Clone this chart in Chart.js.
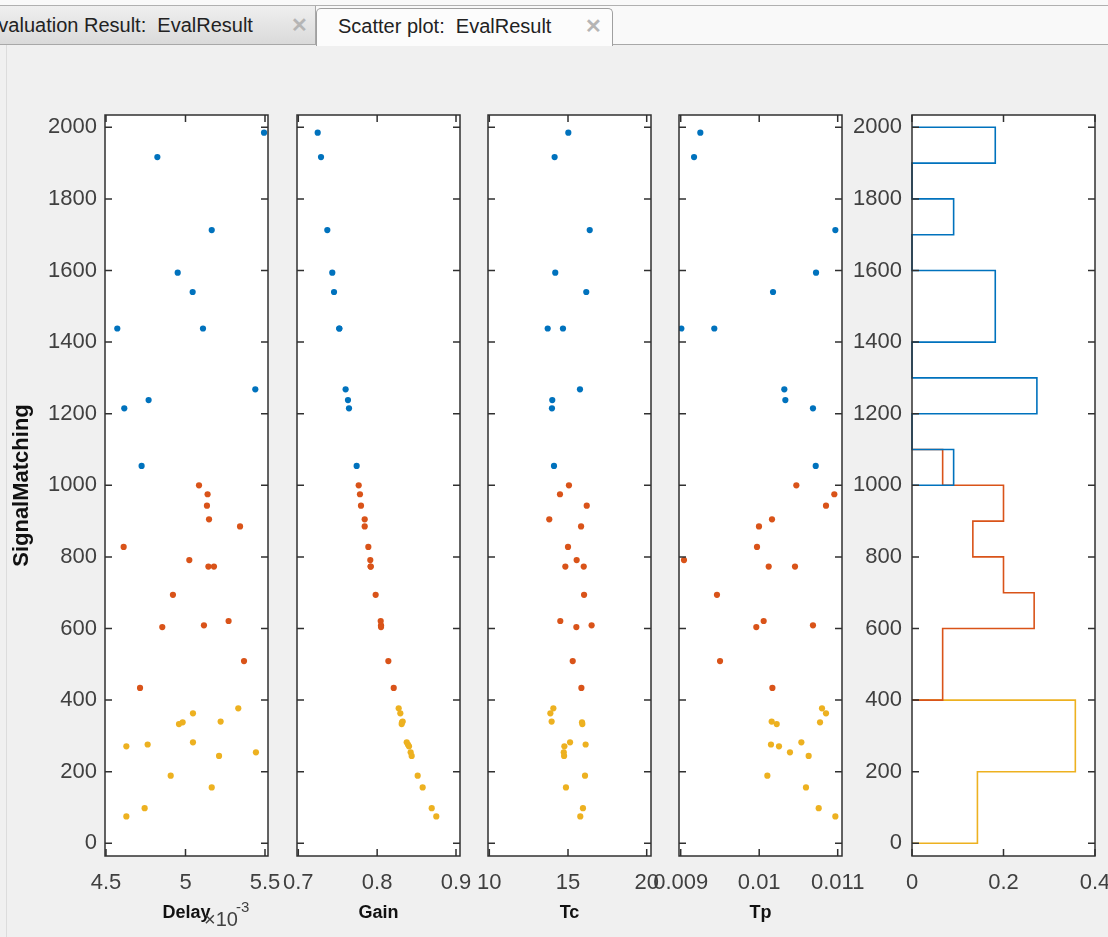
<!DOCTYPE html>
<html><head><meta charset="utf-8">
<script src="https://cdn.jsdelivr.net/npm/chart.js@4.4.1/dist/chart.umd.min.js"></script>
<style>
html,body{margin:0;padding:0;}
body{width:1108px;height:937px;background:#f0f0f0;position:relative;overflow:hidden;font-family:"Liberation Sans",Arial,sans-serif;}
#strip{position:absolute;left:0;top:0;width:1108px;height:45px;background:#f9f9f9;}
#topline{position:absolute;left:0;top:5px;width:1108px;height:1px;background:#b0b0b0;}
#botline{position:absolute;left:0;top:44px;width:1108px;height:1px;background:#a8a8a8;}
.tab{position:absolute;overflow:hidden;white-space:nowrap;font-size:20px;color:#222;}
#tab1{left:0;top:6px;width:315px;height:38px;background:linear-gradient(#efefef,#dadada);border-right:1px solid #a8a8a8;}
#tab2{left:316px;top:8px;width:295px;height:37px;background:#fcfcfc;border:1px solid #a0a0a0;border-bottom:none;border-radius:5px 5px 0 0;}
.tt{position:absolute;top:8px;}
.x{position:absolute;top:7px;color:#b5b5b5;font-size:20px;font-weight:bold;}
#leftline{position:absolute;left:6px;top:45px;width:1px;height:892px;background:#dcdcdc;}
canvas{position:absolute;}
</style></head><body>
<div id="strip"></div>
<div id="topline"></div>
<div id="botline"></div>
<div class="tab" id="tab1"><span class="tt" style="left:-15px">Evaluation Result:&nbsp; EvalResult</span><span class="x" style="left:291px">✕</span></div>
<div class="tab" id="tab2"><span class="tt" style="left:21px;top:6px">Scatter plot:&nbsp; EvalResult</span><span class="x" style="left:268px;top:5px">✕</span></div>
<div id="leftline"></div>
<canvas id="c1" width="280" height="837" style="left:0px;top:100px"></canvas>
<canvas id="c2" width="205" height="837" style="left:267px;top:100px"></canvas>
<canvas id="c3" width="205" height="837" style="left:458px;top:100px"></canvas>
<canvas id="c4" width="225" height="837" style="left:649px;top:100px"></canvas>
<canvas id="c5" width="266" height="837" style="left:842px;top:100px"></canvas>
<script>
// ---------- data ----------
const signalBlue   = [1985,1917,1713,1594,1540,1438,1438,1268,1238,1215,1054];
const signalOrange = [1000,975,943,905,885,828,791,773,773,694,621,609,604,509,434];
const signalYellow = [377,363,340,338,333,282,276,271,254,244,189,156,98,75];

const delayBlue   = [5.494e-3,4.823e-3,5.165e-3,4.951e-3,5.045e-3,4.571e-3,5.110e-3,5.439e-3,4.768e-3,4.615e-3,4.724e-3];
const delayOrange = [5.085e-3,5.139e-3,5.135e-3,5.148e-3,5.343e-3,4.611e-3,5.024e-3,5.144e-3,5.179e-3,4.921e-3,5.271e-3,5.116e-3,4.854e-3,5.368e-3,4.714e-3];
const delayYellow = [5.332e-3,5.047e-3,5.221e-3,4.982e-3,4.959e-3,5.047e-3,4.762e-3,4.628e-3,5.443e-3,5.211e-3,4.907e-3,5.165e-3,4.743e-3,4.628e-3];

const gainBlue   = [0.7246,0.7288,0.7368,0.7431,0.7453,0.752,0.752,0.760,0.763,0.7643,0.774];
const gainOrange = [0.7766,0.7782,0.7795,0.7842,0.7842,0.7888,0.7913,0.7918,0.7918,0.7981,0.8045,0.8049,0.8049,0.8142,0.821];
const gainYellow = [0.8273,0.8294,0.8324,0.8315,0.8311,0.8375,0.8391,0.8404,0.8425,0.8438,0.8514,0.8577,0.8692,0.875];

const tcBlue   = [15.02,14.15,16.38,14.19,16.16,13.71,14.68,15.76,14.0,13.98,14.11];
const tcOrange = [15.06,14.49,16.19,13.81,15.83,15.0,15.55,14.83,16.0,16.02,14.51,16.5,15.53,15.30,15.85];
const tcYellow = [14.07,13.88,13.96,15.89,15.91,15.13,16.12,14.77,14.73,14.75,16.08,14.87,15.95,15.78];

const tpBlue   = [0.00925,0.00917,0.01097,0.010724,0.010176,0.009008,0.009428,0.01032,0.010333,0.010685,0.01072];
const tpOrange = [0.010473,0.010957,0.010851,0.010163,0.009997,0.009972,0.009042,0.010121,0.010456,0.009462,0.010057,0.010685,0.009963,0.009501,0.010168];
const tpYellow = [0.0108,0.010851,0.010159,0.010775,0.010223,0.010537,0.01015,0.010252,0.010392,0.01063,0.010104,0.010596,0.010758,0.01097];

// histogram (stairs) of SignalMatching per group
const histEdgesBlue   = [1000,1100,1200,1300,1400,1500,1600,1700,1800,1900,2000];
const histValuesBlue  = [0.091,0,0.273,0,0.182,0.182,0,0.091,0,0.182];
const histEdgesOrange = [400,500,600,700,800,900,1000,1100];
const histValuesOrange= [0.067,0.067,0.267,0.2,0.133,0.2,0.067];
const histEdgesYellow = [0,200,400];
const histValuesYellow= [0.143,0.357];

// ticks
const yTicks = [0,200,400,600,800,1000,1200,1400,1600,1800,2000];
const yTickLabels = ['0','200','400','600','800','1000','1200','1400','1600','1800','2000'];
const delayTicks = [0.0045,0.005,0.0055];  const delayTickLabels = ['4.5','5','5.5'];
const gainTicks  = [0.7,0.8,0.9];          const gainTickLabels  = ['0.7','0.8','0.9'];
const tcTicks    = [10,15,20];             const tcTickLabels    = ['10','15','20'];
const tpTicks    = [0.009,0.01,0.011];     const tpTickLabels    = ['0.009','0.01','0.011'];
const histTicks  = [0,0.2,0.4];            const histTickLabels  = ['0','0.2','0.4'];

// ---------- styling ----------
const C_BLUE='#0072BD', C_ORANGE='#D95319', C_YELLOW='#EDB120';
const AXC='#303030', TXT='#404040';
const FONT='"Liberation Sans", Arial, sans-serif';
const Y_MIN=-35.5, Y_MAX=2034.4;

const boxPlugin = {
  id:'mbox',
  beforeDraw(chart){
    const {ctx, chartArea:a} = chart;
    ctx.save(); ctx.fillStyle='#ffffff';
    ctx.fillRect(a.left,a.top,a.right-a.left,a.bottom-a.top); ctx.restore();
  },
  afterDatasetsDraw(chart){
    const {ctx, chartArea:a, scales:{x,y}} = chart;
    ctx.save(); ctx.strokeStyle=AXC; ctx.lineWidth=1.5;
    ctx.strokeRect(a.left,a.top,a.right-a.left,a.bottom-a.top);
    const L=7; ctx.beginPath();
    y.ticks.forEach(t=>{const p=y.getPixelForValue(t.value);
      ctx.moveTo(a.left,p);ctx.lineTo(a.left+L,p);ctx.moveTo(a.right,p);ctx.lineTo(a.right-L,p);});
    x.ticks.forEach(t=>{const p=x.getPixelForValue(t.value);
      ctx.moveTo(p,a.bottom);ctx.lineTo(p,a.bottom-L);ctx.moveTo(p,a.top);ctx.lineTo(p,a.top+L);});
    ctx.stroke(); ctx.restore();
  }
};

function pts(xs, ys){ return ys.map((v,i)=>({x:xs[i], y:v})); }
function stairs(edges, vals){
  const d=[{x:0,y:edges[0]}];
  vals.forEach((v,i)=>{ d.push({x:v,y:edges[i]}); d.push({x:v,y:edges[i+1]}); });
  d.push({x:0,y:edges[edges.length-1]});
  return d;
}

function makePanel(id, o){
  const tickFont={family:FONT,size:22};
  new Chart(document.getElementById(id), {
    type:'scatter',
    data:{datasets:o.datasets},
    options:{
      responsive:false, animation:false, events:[],
      layout:{padding:{left:0,right:o.right,top:15,bottom:0}},
      plugins:{legend:{display:false},tooltip:{enabled:false}},
      scales:{
        x:{type:'linear', min:o.xmin, max:o.xmax,
          afterBuildTicks:s=>{s.ticks=o.xticks.map(v=>({value:v}));},
          afterFit:s=>{s.height=81; s.paddingLeft=0; s.paddingRight=0;},
          ticks:{autoSkip:false, maxRotation:0, color:TXT, font:tickFont, padding:14,
                 callback:(v,i)=>o.xlabels[i]},
          grid:{display:false, drawTicks:false}, border:{display:false},
          title:{display:!!o.xtitle, text:o.xtitle||'', color:'#111', font:{family:FONT,size:18,weight:'bold'}, padding:{top:0,bottom:13}}
        },
        y:{type:'linear', min:Y_MIN, max:Y_MAX,
          afterBuildTicks:s=>{s.ticks=yTicks.map(v=>({value:v}));},
          afterFit:s=>{s.width=o.left; s.paddingTop=0; s.paddingBottom=0;},
          ticks:{display:o.yLabels, autoSkip:false, color:TXT, font:tickFont, padding:o.ypad||8,
                 callback:(v,i)=>yTickLabels[i]},
          grid:{display:false, drawTicks:false}, border:{display:false},
          title:{display:!!o.ytitle, text:o.ytitle||'', color:'#111', font:{family:FONT,size:22,weight:'bold'}, padding:{top:9,bottom:0}}
        }
      }
    },
    plugins:[boxPlugin].concat(o.extra||[])
  });
}

function scatterSets(b,o_,y_){
  const base={pointRadius:3.1, pointBorderWidth:0, clip:0, showLine:false};
  return [
    Object.assign({data:pts(b,signalBlue),   backgroundColor:C_BLUE,   order:3},base),
    Object.assign({data:pts(o_,signalOrange),backgroundColor:C_ORANGE, order:2},base),
    Object.assign({data:pts(y_,signalYellow),backgroundColor:C_YELLOW, order:1},base)
  ];
}

const expPlugin = {
  id:'exp',
  afterDraw(chart){
    const ctx=chart.ctx; ctx.save(); ctx.fillStyle=TXT; ctx.textBaseline='alphabetic';
    ctx.font='20px '+FONT; ctx.fillText('×10', 204, 926-100);
    ctx.font='15px '+FONT; ctx.fillText('-3', 236, 912-100);
    ctx.restore();
  }
};

makePanel('c1',{left:105,right:12,xmin:4.4937e-3,xmax:5.5189e-3,xticks:delayTicks,xlabels:delayTickLabels,
  xtitle:'Delay', ytitle:'SignalMatching', yLabels:true, ypad:8,
  datasets:scatterSets(delayBlue,delayOrange,delayYellow), extra:[expPlugin]});
makePanel('c2',{left:30,right:12,xmin:0.69835,xmax:0.90507,xticks:gainTicks,xlabels:gainTickLabels,
  xtitle:'Gain', yLabels:false, datasets:scatterSets(gainBlue,gainOrange,gainYellow)});
makePanel('c3',{left:30,right:12,xmin:9.917,xmax:20.273,xticks:tcTicks,xlabels:tcTickLabels,
  xtitle:'Tc', yLabels:false, datasets:scatterSets(tcBlue,tcOrange,tcYellow)});
makePanel('c4',{left:30,right:32,xmin:0.0089783,xmax:0.0110548,xticks:tpTicks,xlabels:tpTickLabels,
  xtitle:'Tp', yLabels:false, datasets:scatterSets(tpBlue,tpOrange,tpYellow)});

const lineBase={showLine:true, pointRadius:0, borderWidth:1.6, fill:false, tension:0, clip:2};
makePanel('c5',{left:70,right:13,xmin:0,xmax:0.4,xticks:histTicks,xlabels:histTickLabels,
  yLabels:true, ypad:10,
  datasets:[
    Object.assign({data:stairs(histEdgesBlue,histValuesBlue), borderColor:C_BLUE, order:1},lineBase),
    Object.assign({data:stairs(histEdgesOrange,histValuesOrange), borderColor:C_ORANGE, order:2},lineBase),
    Object.assign({data:stairs(histEdgesYellow,histValuesYellow), borderColor:C_YELLOW, order:3},lineBase)
  ]});
</script>
</body></html>
